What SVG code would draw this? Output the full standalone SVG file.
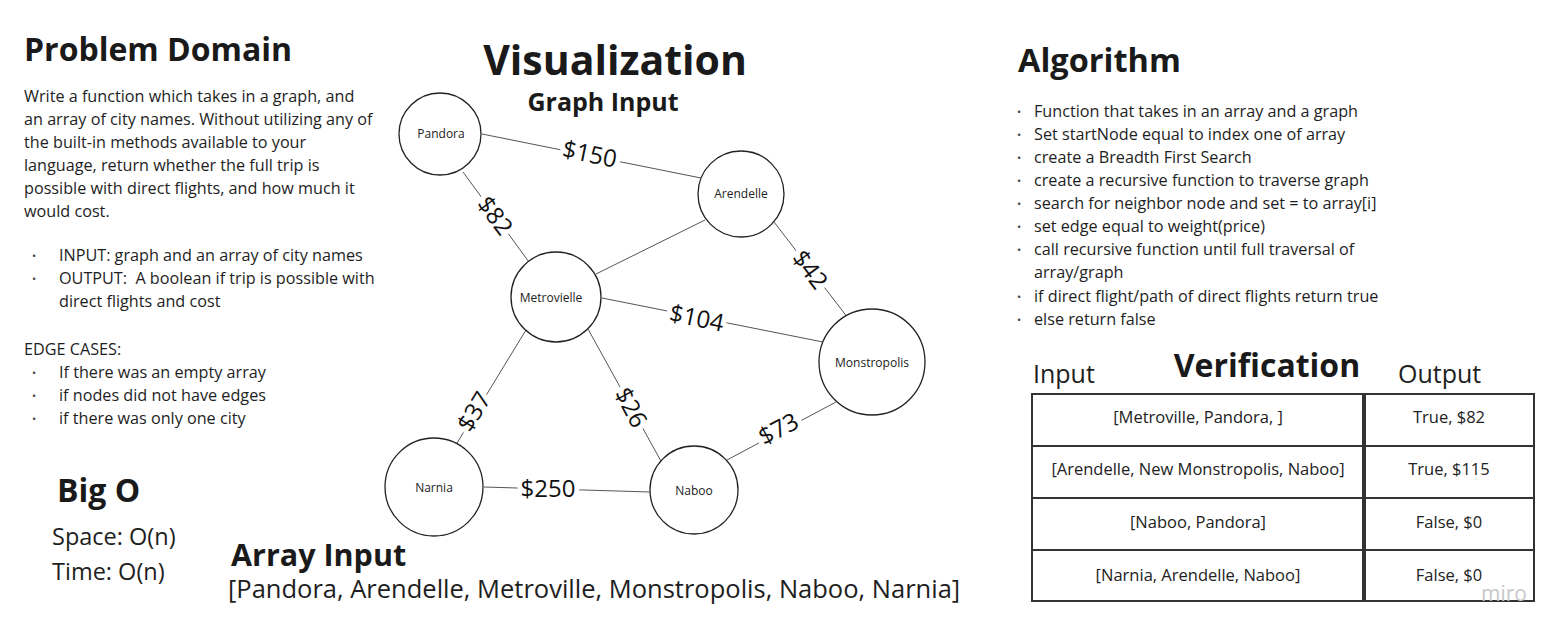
<svg xmlns="http://www.w3.org/2000/svg" width="1567" height="637" viewBox="0 0 1567 637">
<style>
text{font-family:"Open Sans","Liberation Sans",sans-serif;fill:#1e1e1e}
.h{font-weight:bold;fill:#1a1a1a}
.b{font-size:16.2px}
.d{font-size:11px;fill:#444}
.n{font-size:12px;text-anchor:middle;dominant-baseline:central;fill:#222}
.node{fill:#fff;stroke:#222;stroke-width:1.3}
.edge{stroke:#555;stroke-width:1;fill:none}
.lbl{font-size:24px;text-anchor:middle;dominant-baseline:central;fill:#111;stroke:#fff;stroke-width:10;paint-order:stroke;stroke-linejoin:round}
.cell{fill:#fff;stroke:#333;stroke-width:2}
.c{font-size:16.5px;text-anchor:middle;fill:#222}
</style>
<rect width="1567" height="637" fill="#fff"/>

<g id="problem-domain">
<text class="h" x="24" y="61" font-size="32">Problem Domain</text>
<text class="b" x="24" y="102">Write a function which takes in a graph, and</text>
<text class="b" x="24" y="125">an array of city names. Without utilizing any of</text>
<text class="b" x="24" y="148">the built-in methods available to your</text>
<text class="b" x="24" y="171">language, return whether the full trip is</text>
<text class="b" x="24" y="194">possible with direct flights, and how much it</text>
<text class="b" x="24" y="217">would cost.</text>
<text class="d" x="32" y="260">•</text><text class="b" x="59" y="261">INPUT: graph and an array of city names</text>
<text class="d" x="32" y="283">•</text><text class="b" x="59" y="284" xml:space="preserve">OUTPUT:  A boolean if trip is possible with</text>
<text class="b" x="59" y="307">direct flights and cost</text>
<text class="b" x="24" y="355">EDGE CASES:</text>
<text class="d" x="32" y="377">•</text><text class="b" x="59" y="378">If there was an empty array</text>
<text class="d" x="32" y="400">•</text><text class="b" x="59" y="401">if nodes did not have edges</text>
<text class="d" x="32" y="423">•</text><text class="b" x="59" y="424">if there was only one city</text>
</g>

<g id="big-o">
<text class="h" x="57" y="502" font-size="32">Big O</text>
<text x="52" y="545" font-size="23.5">Space: O(n)</text>
<text x="52" y="580" font-size="23.5">Time: O(n)</text>
</g>

<g id="array-input">
<text class="h" x="231" y="566" font-size="30.5">Array Input</text>
<text x="228" y="598" font-size="25.5">[Pandora, Arendelle, Metroville, Monstropolis, Naboo, Narnia]</text>
</g>

<g id="titles">
<text class="h" x="615" y="75" font-size="41" text-anchor="middle">Visualization</text>
<text class="h" x="603" y="111" font-size="25" text-anchor="middle">Graph Input</text>
</g>

<g id="connectors">
<line class="edge" x1="482" y1="134" x2="701" y2="178"/>
<line class="edge" x1="463" y1="172" x2="529" y2="262"/>
<line class="edge" x1="705" y1="220" x2="596" y2="274"/>
<line class="edge" x1="774" y1="222" x2="848" y2="318"/>
<line class="edge" x1="602" y1="298" x2="823" y2="342"/>
<line class="edge" x1="526" y1="330" x2="457" y2="443"/>
<line class="edge" x1="588" y1="329" x2="662" y2="463"/>
<line class="edge" x1="836" y1="402" x2="727" y2="460"/>
<line class="edge" x1="484" y1="487" x2="650" y2="492"/>
</g>

<g id="node-pandora"><circle class="node" cx="440" cy="134" r="41"/><text class="n" x="441" y="133">Pandora</text></g>
<g id="node-arendelle"><circle class="node" cx="741" cy="194" r="43"/><text class="n" x="741" y="193">Arendelle</text></g>
<g id="node-metrovielle"><circle class="node" cx="556" cy="297" r="45"/><text class="n" x="551" y="297">Metrovielle</text></g>
<g id="node-monstropolis"><circle class="node" cx="872" cy="362" r="53"/><text class="n" x="872" y="362">Monstropolis</text></g>
<g id="node-narnia"><circle class="node" cx="434" cy="487" r="49"/><text class="n" x="434" y="487">Narnia</text></g>
<g id="node-naboo"><circle class="node" cx="694" cy="490" r="44"/><text class="n" x="694" y="490">Naboo</text></g>

<g id="edge-labels">
<text class="lbl" transform="translate(590,153) rotate(11.5)">$150</text>
<text class="lbl" transform="translate(496,215) rotate(53)">$82</text>
<text class="lbl" transform="translate(811,269) rotate(53)">$42</text>
<text class="lbl" transform="translate(697,317) rotate(11.5)">$104</text>
<text class="lbl" transform="translate(473,411) rotate(-58.6)">$37</text>
<text class="lbl" transform="translate(632,407) rotate(62)">$26</text>
<text class="lbl" transform="translate(778,428) rotate(-28)">$73</text>
<text class="lbl" transform="translate(548,487)">$250</text>
</g>

<g id="algorithm">
<text class="h" x="1018" y="72" font-size="32.5">Algorithm</text>
<text class="d" x="1017" y="116">•</text><text class="b" x="1034" y="117">Function that takes in an array and a graph</text>
<text class="d" x="1017" y="139">•</text><text class="b" x="1034" y="140">Set startNode equal to index one of array</text>
<text class="d" x="1017" y="162">•</text><text class="b" x="1034" y="163">create a Breadth First Search</text>
<text class="d" x="1017" y="185">•</text><text class="b" x="1034" y="186">create a recursive function to traverse graph</text>
<text class="d" x="1017" y="208">•</text><text class="b" x="1034" y="209">search for neighbor node and set = to array[i]</text>
<text class="d" x="1017" y="231">•</text><text class="b" x="1034" y="232">set edge equal to weight(price)</text>
<text class="d" x="1017" y="254">•</text><text class="b" x="1034" y="255">call recursive function until full traversal of</text>
<text class="b" x="1034" y="278">array/graph</text>
<text class="d" x="1017" y="301">•</text><text class="b" x="1034" y="302">if direct flight/path of direct flights return true</text>
<text class="d" x="1017" y="324">•</text><text class="b" x="1034" y="325">else return false</text>
</g>

<g id="verification">
<text class="h" x="1267" y="377" font-size="32" text-anchor="middle">Verification</text>
<text x="1033" y="383" font-size="25">Input</text>
<text x="1398" y="383" font-size="25">Output</text>
<rect class="cell" x="1032" y="394" width="331" height="52"/>
<rect class="cell" x="1365" y="394" width="169" height="52"/>
<rect class="cell" x="1032" y="446" width="331" height="52"/>
<rect class="cell" x="1365" y="446" width="169" height="52"/>
<rect class="cell" x="1032" y="498" width="331" height="52"/>
<rect class="cell" x="1365" y="498" width="169" height="52"/>
<rect class="cell" x="1032" y="550" width="331" height="51"/>
<rect class="cell" x="1365" y="550" width="169" height="51"/>
<text class="c" x="1198" y="423">[Metroville, Pandora, ]</text>
<text class="c" x="1449" y="423">True, $82</text>
<text class="c" x="1198" y="475">[Arendelle, New Monstropolis, Naboo]</text>
<text class="c" x="1449" y="475">True, $115</text>
<text class="c" x="1198" y="528">[Naboo, Pandora]</text>
<text class="c" x="1449" y="528">False, $0</text>
<text class="c" x="1198" y="581">[Narnia, Arendelle, Naboo]</text>
<text class="c" x="1449" y="581">False, $0</text>
<text x="1481" y="601" font-size="21" style="fill:#c8c8cc">miro</text>
</g>
</svg>
